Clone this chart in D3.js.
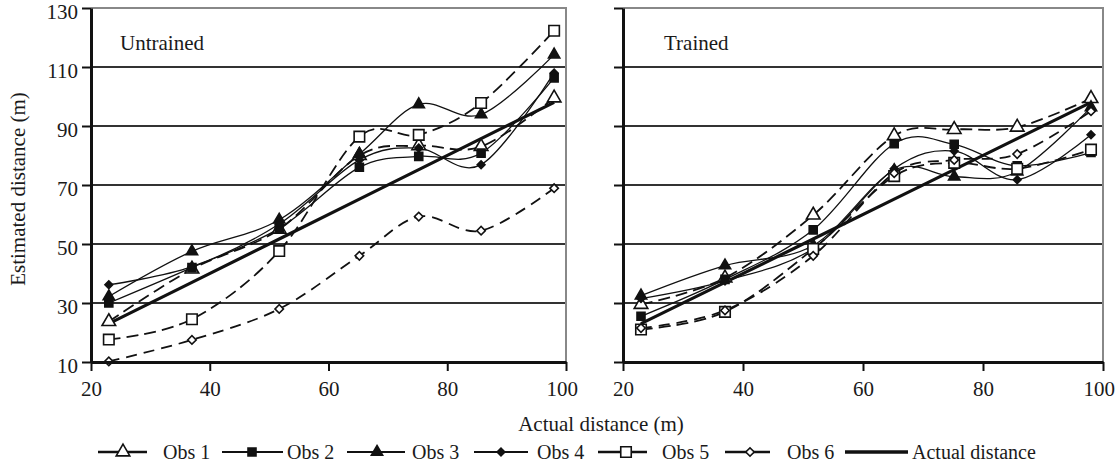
<!DOCTYPE html>
<html>
<head>
<meta charset="utf-8">
<script src="https://cdn.jsdelivr.net/npm/d3@7"></script>
<style>
  body { margin: 0; background: #fff; }
  svg text { font-family: "Liberation Serif", "DejaVu Serif", serif; fill: #1a1a1a; }
</style>
</head>
<body>
<div id="chart"></div>
<script>
// actual distances (x) shared by both panels
var actualDistance = [23, 37, 51.7, 65.2, 75.2, 85.7, 98];
var yTicks = [10, 30, 50, 70, 90, 110, 130];
var xTicks = [20, 40, 60, 80, 100];
var seriesNames = ["Obs 1", "Obs 2", "Obs 3", "Obs 4", "Obs 5", "Obs 6"];

// untrained observers
var untrained1 = [23.7, 41.5, 55, 80, 83.3, 83, 99.5];
var untrained2 = [30, 42, 55.3, 76, 79.7, 80.8, 106.3];
var untrained3 = [32.2, 47.5, 58.2, 80.5, 97.3, 93.9, 114.2];
var untrained4 = [36.2, 42.3, 56.8, 78.5, 82.5, 76.9, 108];
var untrained5 = [17.6, 24.5, 47.6, 86.4, 87, 97.8, 122.3];
var untrained6 = [10.2, 17.5, 28, 46, 59.3, 54.5, 68.9];

// trained observers
var trained1 = [29.5, 38.5, 59.8, 86.7, 88.8, 89.6, 99.3];
var trained2 = [25.5, 38, 54.8, 84, 83.8, 76.5, 81];
var trained3 = [32.5, 42.7, 49.5, 75, 72.8, 74.5, 96.3];
var trained4 = [31.5, 37.5, 48.5, 75.5, 81.5, 71.8, 87];
var trained5 = [21, 27, 48.3, 73, 77.5, 75.5, 82];
var trained6 = [21.5, 27.5, 46, 74, 78.5, 80.5, 95];

var svgWidth = 1116;
var svgHeight = 466;
var fontFamily = "Liberation Serif, DejaVu Serif, serif";

var svg = d3.select("#chart")
  .append("svg")
  .attr("width", svgWidth)
  .attr("height", svgHeight)
  .attr("font-family", fontFamily);

// look of each observer line (rot = square turned into a diamond)
var styles = [
  {dash: "12,6", symbol: d3.symbolTriangle, size: 80, filled: false, rot: 0},
  {dash: null, symbol: d3.symbolSquare, size: 64, filled: true, rot: 0},
  {dash: null, symbol: d3.symbolTriangle, size: 55, filled: true, rot: 0},
  {dash: null, symbol: d3.symbolSquare, size: 30, filled: true, rot: 45},
  {dash: "12,6", symbol: d3.symbolSquare, size: 110, filled: false, rot: 0},
  {dash: "11,7", symbol: d3.symbolSquare, size: 36, filled: false, rot: 45}
];

var panels = [
  {left: 91, right: 566, label: "Untrained", labels: true,
   series: [untrained1, untrained2, untrained3, untrained4, untrained5, untrained6]},
  {left: 623, right: 1103, label: "Trained", labels: false,
   series: [trained1, trained2, trained3, trained4, trained5, trained6]}
];

var plotTop = 8, plotBottom = 362;

var yScale = d3.scaleLinear().domain([10, 130]).range([plotBottom, plotTop]);

function drawMarker(g, st, x, y) {
  g.append("path")
    .attr("d", d3.symbol().type(st.symbol).size(st.size)())
    .attr("transform", `translate(${x},${y})rotate(${st.rot})`)
    .attr("fill", st.filled ? "#111" : "#fff")
    .attr("stroke", "#111")
    .attr("stroke-width", 1.6);
}

panels.forEach(function(p) {
  var xScale = d3.scaleLinear().domain([20, 100]).range([p.left, p.right]);
  var g = svg.append("g");

  // horizontal gridlines
  g.selectAll(".grid")
    .data(yTicks.slice(1, -1))
    .enter()
    .append("line")
    .attr("x1", p.left).attr("x2", p.right)
    .attr("y1", d => yScale(d)).attr("y2", d => yScale(d))
    .attr("stroke", "#333")
    .attr("stroke-width", 2);

  // top and right frame
  g.append("path")
    .attr("d", `M${p.left},${plotTop}H${p.right}V${plotBottom}`)
    .attr("fill", "none")
    .attr("stroke", "#888")
    .attr("stroke-width", 2);

  g.append("text")
    .attr("x", p.left + (p.labels ? 29 : 41))
    .attr("y", 50)
    .attr("font-size", 21)
    .text(p.label);

  var smooth = d3.line()
    .x((d, i) => xScale(actualDistance[i]))
    .y(d => yScale(d))
    .curve(d3.curveCardinal.tension(0));

  // actual distance line
  g.append("path")
    .attr("d", d3.line().x(d => xScale(d)).y(d => yScale(d))(actualDistance))
    .attr("fill", "none")
    .attr("stroke", "#111")
    .attr("stroke-width", 3.2);

  p.series.forEach(function(vals, k) {
    var st = styles[k];
    g.append("path")
      .attr("d", smooth(vals))
      .attr("fill", "none")
      .attr("stroke", "#111")
      .attr("stroke-width", st.dash ? 1.8 : 1.3)
      .attr("stroke-dasharray", st.dash);
  });

  p.series.forEach(function(vals, k) {
    vals.forEach(function(v, i) {
      drawMarker(g, styles[k], xScale(actualDistance[i]), yScale(v));
    });
  });

  // axes
  var leftAxis = d3.axisLeft(yScale).tickValues(yTicks).tickSize(9).tickSizeOuter(0)
    .tickFormat(p.labels ? d3.format("d") : "");
  var ay = g.append("g")
    .attr("transform", `translate(${p.left},0)`)
    .call(leftAxis)
    .attr("font-family", fontFamily);
  ay.select(".domain").attr("stroke", "#111").attr("stroke-width", 3);
  ay.selectAll(".tick line").attr("stroke", "#111").attr("stroke-width", 2);
  ay.selectAll(".tick text")
    .attr("font-size", 21)
    .attr("fill", "#1a1a1a")
    .attr("x", -13)
    .attr("dy", "0.5em");

  var bottomAxis = d3.axisBottom(xScale).tickValues(xTicks).tickSize(9).tickSizeOuter(0);
  var ax = g.append("g")
    .attr("transform", `translate(0,${plotBottom})`)
    .call(bottomAxis)
    .attr("font-family", fontFamily);
  ax.select(".domain").attr("stroke", "#111").attr("stroke-width", 3);
  ax.selectAll(".tick line").attr("stroke", "#111").attr("stroke-width", 2);
  ax.selectAll(".tick text")
    .attr("font-size", 21)
    .attr("fill", "#1a1a1a")
    .attr("y", 19)
    .attr("dx", d => d === 100 ? "-0.2em" : 0);
});

// axis titles
svg.append("text")
  .attr("x", 601)
  .attr("y", 431)
  .attr("text-anchor", "middle")
  .attr("font-size", 21)
  .text("Actual distance (m)");

svg.append("text")
  .attr("transform", "translate(25,189)rotate(-90)")
  .attr("text-anchor", "middle")
  .attr("font-size", 21)
  .text("Estimated distance (m)");

// legend
var legendY = 452;
var legendItems = [
  {x1: 98, x2: 147, mx: 123, tx: 163},
  {x1: 222, x2: 283, mx: 252, tx: 287},
  {x1: 347, x2: 405, mx: 377, tx: 412},
  {x1: 474, x2: 528, mx: 501, tx: 537},
  {x1: 598, x2: 647, mx: 626, tx: 662},
  {x1: 725, x2: 770, mx: 750, tx: 787}
];
var legend = svg.append("g");
legendItems.forEach(function(item, k) {
  var st = styles[k];
  legend.append("line")
    .attr("x1", item.x1).attr("x2", item.x2)
    .attr("y1", legendY).attr("y2", legendY)
    .attr("stroke", "#111")
    .attr("stroke-width", st.dash ? 2.4 : 1.8);
  drawMarker(legend, st, item.mx, legendY);
  legend.append("text")
    .attr("x", item.tx)
    .attr("y", legendY + 7)
    .attr("font-size", 20)
    .text(seriesNames[k]);
});
legend.append("line")
  .attr("x1", 845).attr("x2", 908)
  .attr("y1", legendY).attr("y2", legendY)
  .attr("stroke", "#111")
  .attr("stroke-width", 3.5);
legend.append("text")
  .attr("x", 912)
  .attr("y", legendY + 7)
  .attr("font-size", 20)
  .text("Actual distance");
</script>
</body>
</html>
